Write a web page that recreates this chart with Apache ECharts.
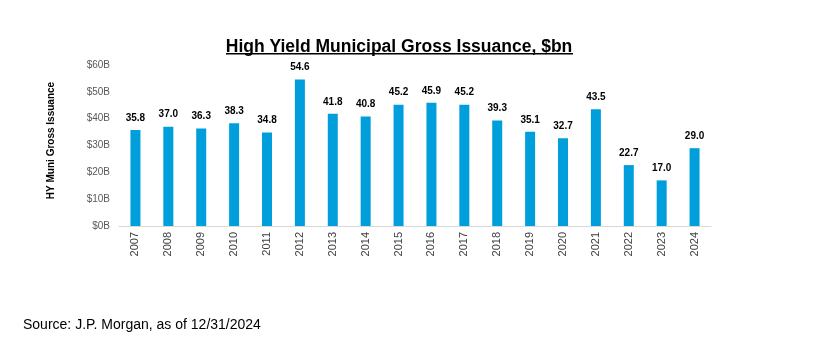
<!DOCTYPE html>
<html><head><meta charset="utf-8">
<script src="https://cdn.jsdelivr.net/npm/echarts@6/dist/echarts.min.js"></script>
<style>html,body{margin:0;padding:0;background:#fff}#c{width:834px;height:357px}</style>
</head><body><div id="c"></div>
<script>
const years = ['2007','2008','2009','2010','2011','2012','2013','2014','2015','2016','2017','2018','2019','2020','2021','2022','2023','2024'];
const issuance = [35.8,37.0,36.3,38.3,34.8,54.6,41.8,40.8,45.2,45.9,45.2,39.3,35.1,32.7,43.5,22.7,17.0,29.0];
const titleText = 'High Yield Municipal Gross Issuance, $bn';
const yAxisName = 'HY Muni Gross Issuance';
const sourceText = 'Source: J.P. Morgan, as of 12/31/2024';

const FF = 'Arial';
const chart = echarts.init(document.getElementById('c'), null, {renderer:'canvas'});
chart.setOption({
  animation:false,
  textStyle:{fontFamily:FF},
  title:{text:titleText,top:33,left:394,textAlign:'center',
    textStyle:{fontFamily:FF,fontWeight:'bold',fontSize:17.5,color:'#000'}},
  graphic:[
    {type:'rect',shape:{x:226,y:53,width:347,height:1.5},style:{fill:'#000'}},
    {type:'text',left:23,top:318,style:{text:sourceText,fontFamily:'Arial',fontSize:14,fill:'#000'}}
  ],
  grid:{left:119,right:123,top:65,bottom:131,containLabel:false},
  xAxis:{type:'category',data:years,
    axisLine:{show:true,lineStyle:{color:'#d9d9d9',width:1}},
    axisTick:{show:false},
    axisLabel:{rotate:90,fontSize:11,color:'#404040',fontFamily:FF,margin:6}},
  yAxis:{type:'value',min:0,max:60,interval:10,
    name:yAxisName,nameLocation:'middle',nameRotate:90,nameGap:63,
    nameTextStyle:{fontSize:10,fontWeight:'bold',color:'#000',fontFamily:FF,padding:[0,0,0,10]},
    axisLine:{show:false},axisTick:{show:false},splitLine:{show:false},
    axisLabel:{formatter:v=>'$'+v+'B',fontSize:10,color:'#595959',fontFamily:FF,margin:9}},
  series:[{type:'bar',data:issuance,barWidth:10,
    itemStyle:{color:'#009FDB'},
    label:{show:true,position:'top',distance:7,formatter:p=>p.value.toFixed(1),
      fontSize:10,fontWeight:'bold',color:'#000',fontFamily:FF}}]
});
</script></body></html>
